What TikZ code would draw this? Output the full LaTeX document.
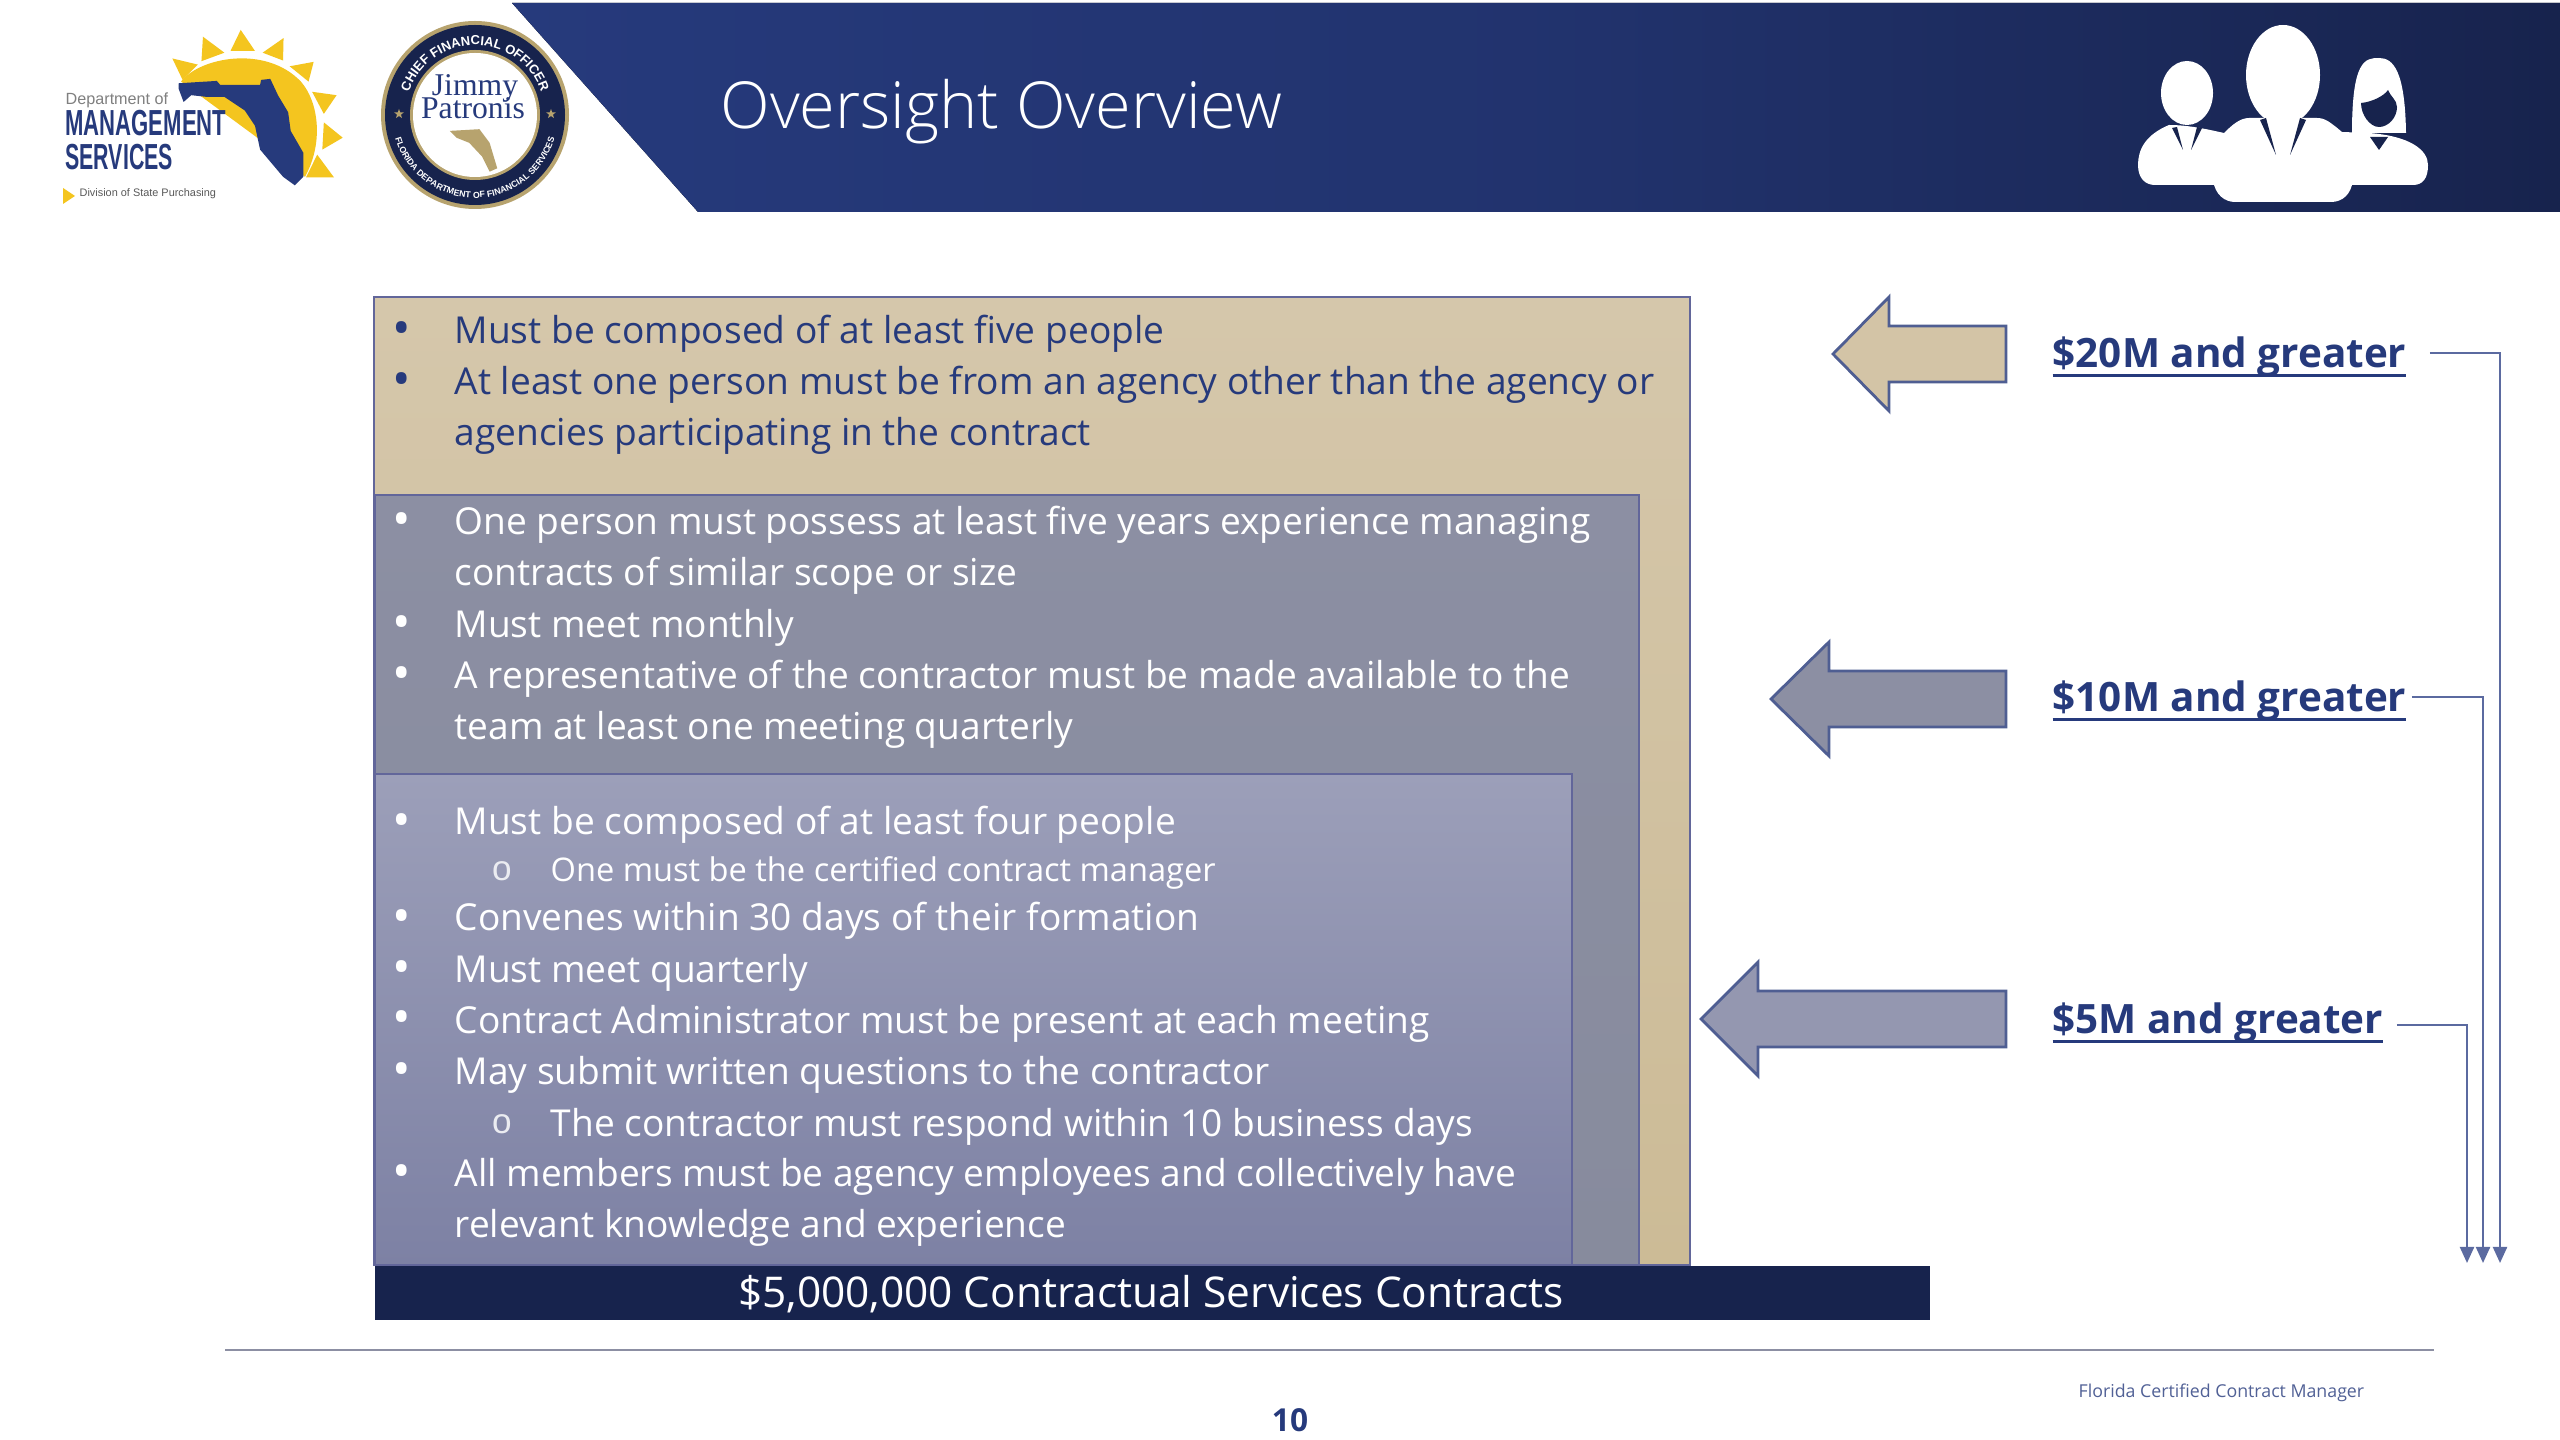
\documentclass[tikz,border=0pt]{standalone}
\usepackage{fontspec}
\setmainfont{Open Sans}
\newfontfamily\titlefont{Open Sans Light}
\newfontfamily\logofont{Liberation Sans}
\newfontfamily\sealfont{Liberation Serif}
\usetikzlibrary{arrows.meta,positioning,shapes.geometric,decorations.text}
\definecolor{navy}{HTML}{263A7C}
\definecolor{deepnavy}{HTML}{17234D}
\definecolor{edgeblue}{HTML}{4F5E92}
\definecolor{boxedge}{HTML}{62669A}
\definecolor{linkblue}{HTML}{5B6AA0}
\definecolor{tantop}{HTML}{D5C7AB}
\definecolor{tanbottom}{HTML}{CCBB96}
\definecolor{tanfill}{HTML}{D3C4A6}
\definecolor{greyfill}{HTML}{8C8FA3}
\definecolor{greybottom}{HTML}{878B9D}
\definecolor{paleblue}{HTML}{9497B0}
\definecolor{tiertop}{HTML}{9C9FB9}
\definecolor{tierbottom}{HTML}{7D81A4}
\definecolor{sunyellow}{HTML}{F4C51F}
\definecolor{sealgold}{HTML}{B7A36E}
\newsavebox{\amountbox}
\newcommand{\ulined}[1]{\sbox{\amountbox}{#1}\rlap{\rule[-2.5pt]{\wd\amountbox}{0.7pt}}\usebox{\amountbox}}
\begin{document}
\begin{tikzpicture}[
    x=0.01cm, y=-0.01cm,
    bodyfont/.style={font=\fontsize{10.55pt}{14.5pt}\selectfont},
    item/.style={bodyfont, anchor=north west, inner sep=0pt, align=left, execute at begin node=\strut},
    subitem/.style={item, font=\fontsize{9.27pt}{14.5pt}\selectfont},
    dot/.style={font=\fontsize{14pt}{14.5pt}\selectfont, inner sep=0pt},
    box/.style={draw=boxedge, line width=0.7pt},
    blockarrow/.style={draw=edgeblue, line width=0.8pt, line join=miter},
    amount/.style={anchor=base west, inner sep=0pt, text=navy, text height=0.42cm, text depth=0.12cm,
        font=\fontsize{11.5pt}{13pt}\selectfont\bfseries},
    link/.style={draw=linkblue, line width=0.6pt, shorten <=0.23cm, -{Triangle[length=0.16cm,width=0.14cm]}}
]
\useasboundingbox (0,0) rectangle (2560,1440);
\fill[white] (0,0) rectangle (2560,1440);

% banner
\fill[left color=navy, right color=deepnavy, middle color=navy!70!deepnavy] (512,3) -- (2560,3) -- (2560,212) -- (698,212) -- cycle;
\node[text=white, anchor=west, inner sep=0pt, font=\titlefont\fontsize{18.43pt}{22pt}\selectfont] (title) at (720,112) {Oversight Overview};

% people
\fill[white] (2169,125) .. controls (2145,135) and (2138,150) .. (2138,165) .. controls (2138,178) and (2145,185) .. (2155,185) -- (2413,185) .. controls (2423,185) and (2428,178) .. (2428,165) .. controls (2428,150) and (2410,136) .. (2369,133) -- (2342,132) .. controls (2330,122) and (2325,118) .. (2317,118) -- (2249,118) .. controls (2240,118) and (2232,125) .. (2224,133) .. controls (2210,130) and (2190,125) .. (2169,125) -- cycle;
\fill[white] (2213,180) .. controls (2215,195) and (2225,202) .. (2235,202) -- (2331,202) .. controls (2342,202) and (2351,195) .. (2353,180) -- cycle;
\fill[white] (2283,75) ellipse [x radius=37, y radius=50];
\fill[white] (2187,93) ellipse [x radius=26, y radius=32];
\fill[white] (2352,133) .. controls (2352,60) and (2365,58) .. (2379,58) .. controls (2393,58) and (2405,70) .. (2406,133) -- cycle;
\fill[deepnavy] (2361,103) .. controls (2372,102) and (2384,96) .. (2388,90) .. controls (2390,96) and (2397,100) .. (2397,107) .. controls (2397,118) and (2388,127) .. (2379,127) .. controls (2370,127) and (2361,115) .. (2361,103) -- cycle;
\fill[deepnavy] (2260,120) -- (2266,118) -- (2276,155) -- cycle;
\fill[deepnavy] (2306,120) -- (2300,118) -- (2290,155) -- cycle;
\fill[deepnavy] (2172,128) -- (2177,127) -- (2183,150) -- cycle;
\fill[deepnavy] (2202,128) -- (2197,127) -- (2191,150) -- cycle;
\fill[deepnavy] (2370,137) -- (2388,137) -- (2379,150) -- cycle;

% purchasing logo
\begin{scope}[xscale=0.51, yscale=0.34]
    \foreach \ax/\ay/\bx/\by/\cx/\cy in {338/172/358/235/388/190, 398/108/395/180/440/155, 472/88/452/150/500/150, 556/112/515/155/555/178, 615/182/568/195/605/240, 660/280/612/270/635/335, 672/405/635/360/632/440, 655/522/622/455/600/522}
        \fill[sunyellow] (\ax,\ay) -- (\bx,\by) -- (\cx,\cy) -- cycle;
    \fill[sunyellow] (355,240) .. controls (390,170) and (520,130) .. (590,240) .. controls (625,300) and (635,420) .. (598,520) -- (500,400) -- cycle;
    \fill[navy] (350,245) -- (425,238) -- (432,250) -- (510,250) -- (512,235) -- (530,232) -- (545,280) -- (565,330) -- (570,385) -- (595,450) -- (595,520) -- (578,545) -- (555,520) -- (510,440) -- (500,370) -- (480,325) -- (440,285) -- (405,285) -- (375,280) -- (360,300) -- (350,260) -- cycle;
\end{scope}
\node[anchor=west, inner sep=0pt, text=black!50, font=\logofont\fontsize{4.6pt}{5pt}\selectfont] (dept) at (65,100) {Department of};
\node[anchor=base west, inner sep=0pt, text=navy, xscale=0.61, font=\logofont\fontsize{10.3pt}{12pt}\selectfont\bfseries] (mgmt) at (65,136) {MANAGEMENT};
\node[anchor=base west, inner sep=0pt, text=navy, xscale=0.59, font=\logofont\fontsize{10.3pt}{12pt}\selectfont\bfseries] (serv) at (65,170) {SERVICES};
\fill[sunyellow] (63,188) -- (75,196) -- (63,204) -- cycle;
\node[anchor=west, inner sep=0pt, text=black!65, font=\logofont\fontsize{3.1pt}{4pt}\selectfont] (division) at (79,194) {Division of State Purchasing};

% seal
\fill[sealgold] (475,115) circle [radius=94];
\fill[deepnavy] (475,115) circle [radius=90];
\fill[sealgold] (475,115) circle [radius=65];
\fill[white] (475,115) circle [radius=62];
\path[decorate, decoration={text along path, text color=white, text align=center,
    text={|\logofont\fontsize{3.7pt}{5pt}\selectfont\bfseries|CHIEF FINANCIAL OFFICER}}]
    (475,115) ++(170:70) arc [start angle=170, end angle=370, radius=70];
\path[decorate, decoration={text along path, text color=white, text align=center,
    text={|\logofont\fontsize{2.5pt}{4pt}\selectfont\bfseries|FLORIDA DEPARTMENT OF FINANCIAL SERVICES}}]
    (475,115) ++(190:83) arc [start angle=190, end angle=-10, radius=83];
\node[star, star points=5, star point ratio=2.4, fill=sealgold, inner sep=0pt, minimum size=0.1cm] (starl) at (399,114) {};
\node[star, star points=5, star point ratio=2.4, fill=sealgold, inner sep=0pt, minimum size=0.1cm] (starr) at (551,114) {};
\node[inner sep=0pt, text=navy, font=\sealfont\fontsize{9pt}{10pt}\selectfont] (jimmy) at (475,88) {Jimmy};
\node[inner sep=0pt, text=navy, font=\sealfont\fontsize{9pt}{10pt}\selectfont] (patronis) at (473,108) {Patronis};
\begin{scope}[xscale=0.51, yscale=0.34]
    \fill[sealgold] (882,385) -- (940,380) -- (960,420) -- (975,495) -- (960,505) -- (945,460) -- (920,420) -- (895,405) -- cycle;
\end{scope}

% stacked boxes
\draw[box, top color=tantop, bottom color=tanbottom] (374,297) rectangle (1690,1265);
\draw[box, top color=greyfill, bottom color=greybottom] (375,495) rectangle (1639,1265);
\draw[box, top color=tiertop, bottom color=tierbottom] (375,774) rectangle (1572,1265);
\node[fill=deepnavy, anchor=north west, inner sep=0pt, minimum width=15.54cm, minimum height=0.54cm] (bar) at (374,1265) {};
\node[text=white, inner sep=0pt, font=\fontsize{12.05pt}{14pt}\selectfont] (bartext) at (1151,1294) {\$5,000,000 Contractual Services Contracts};

% bullets
\foreach \yy in {334,385}
    \node[dot, text=navy] (dot\yy) at (402,\yy) {•};
\foreach \yy in {525,628,679,826,922,973,1023,1075,1177}
    \node[dot, text=white] (dot\yy) at (402,\yy) {•};
\foreach \yy in {871,1124}
    \node[text=white!80!tiertop, inner sep=0pt, font=\logofont\fontsize{10pt}{11pt}\selectfont] (ring\yy) at (502,\yy) {o};

% text of the three tiers
\node[item, text=navy] (fivepeople) at (454,307) {Must be composed of at least five people};
\node[item, text=navy] (otheragency) at (454,365) {At least one person must be from an agency other than the agency or\\agencies participating in the contract};
\node[item, text=white] (experience) at (454,505) {One person must possess at least five years experience managing\\contracts of similar scope or size};
\node[item, text=white] (monthly) at (454,601) {Must meet monthly};
\node[item, text=white] (representative) at (454,659) {A representative of the contractor must be made available to the\\team at least one meeting quarterly};
\node[item, text=white] (fourpeople) at (454,798) {Must be composed of at least four people};
\node[subitem, text=white] (certified) at (550,845) {One must be the certified contract manager};
\node[item, text=white] (convenes) at (454,894) {Convenes within 30 days of their formation};
\node[item, text=white] (quarterly) at (454,946) {Must meet quarterly};
\node[item, text=white] (administrator) at (454,997) {Contract Administrator must be present at each meeting};
\node[item, text=white] (questions) at (454,1048) {May submit written questions to the contractor};
\node[item, text=white] (respond) at (550,1100) {The contractor must respond within 10 business days};
\node[item, text=white] (members) at (454,1158) {All members must be agency employees and collectively have\\relevant knowledge and experience};

% block arrows
\foreach \tip/\neck/\yy/\col in {1833/1889/354/tanfill, 1771/1829/699/greyfill, 1701/1758/1019/paleblue}
    \draw[blockarrow, fill=\col] (\tip,\yy) -- (\neck,{\yy-57}) -- (\neck,{\yy-28}) -- (2006,{\yy-28}) -- (2006,{\yy+28}) -- (\neck,{\yy+28}) -- (\neck,{\yy+57}) -- cycle;

% amounts
\node[amount] (lab20) at (2052,368) {\ulined{\$20M and greater}};
\node[amount] (lab10) at (2052,712) {\ulined{\$10M and greater}};
\node[amount] (lab5) at (2052,1034) {\ulined{\$5M and greater}};
\coordinate (end20) at (2500,1263);
\coordinate (end10) at (2483,1263);
\coordinate (end5) at (2467,1263);
\draw[link] (lab20.east) -| (end20);
\draw[link, shorten <=0.05cm] (lab10.east) -| (end10);
\draw[link, shorten <=0.13cm] ([yshift=-1.7pt]lab5.east) -| (end5);

% footer
\draw[draw=greyfill, line width=0.6pt] (225,1350) -- (2434,1350);
\node[text=navy!80!white, anchor=west, inner sep=0pt, font=\fontsize{5.05pt}{6pt}\selectfont] (footer) at (2078,1393) {Florida Certified Contract Manager};
\node[text=navy, inner sep=0pt, font=\fontsize{9pt}{11pt}\selectfont\bfseries] (pagenum) at (1290,1420) {10};
\end{tikzpicture}
\end{document}
